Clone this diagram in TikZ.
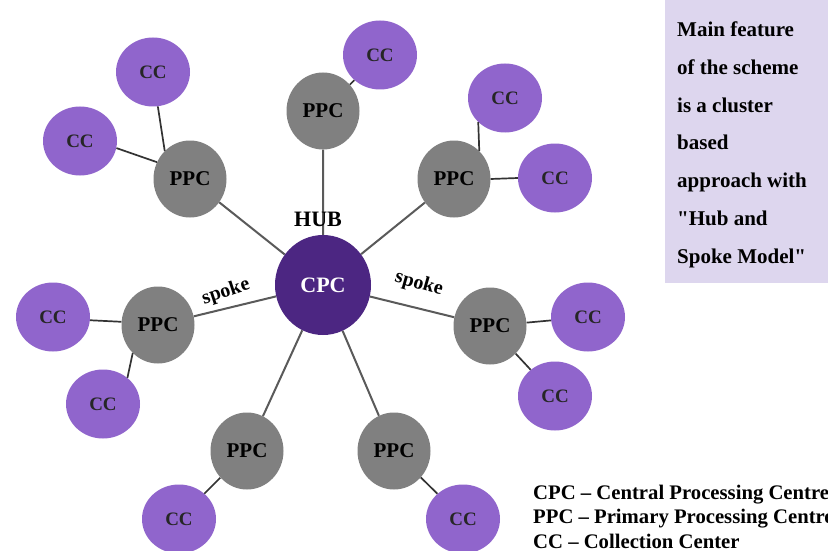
\documentclass[tikz,border=0pt]{standalone}
\usepackage{fontspec}
\setmainfont{Liberation Serif}
\usepackage{xcolor}
\usetikzlibrary{shapes}

\definecolor{cpcpurple}{RGB}{76,38,130}
\definecolor{ccpurple}{RGB}{144,101,204}
\definecolor{ppcgray}{RGB}{128,128,128}
\definecolor{notefill}{RGB}{221,214,238}
\definecolor{spokegray}{RGB}{90,90,90}

\begin{document}
\begin{tikzpicture}[
	%Environment config
	x=1pt,
	y=-1pt,
	font=\bfseries,
	%Environment styles
	CpcCfg/.style={
		ellipse,
		fill=cpcpurple,
		text=white,
		inner sep=0pt,
		minimum width=96pt,
		minimum height=100pt,
		font=\bfseries\fontsize{22}{22}\selectfont
	},
	PpcCfg/.style={
		ellipse,
		fill=ppcgray,
		inner sep=0pt,
		minimum width=73pt,
		minimum height=77pt,
		font=\bfseries\fontsize{21}{21}\selectfont
	},
	CcCfg/.style={
		ellipse,
		fill=ccpurple,
		text=black!85,
		inner sep=0pt,
		minimum width=74pt,
		minimum height=69pt,
		font=\bfseries\fontsize{19}{19}\selectfont
	},
	SpokeCfg/.style={draw=spokegray, line width=2pt},
	LinkCfg/.style={draw=black!80, line width=1.7pt},
	LabelCfg/.style={inner sep=0pt, font=\bfseries\fontsize{20}{20}\selectfont}
	]
	\clip (0,0) rectangle (828,551);
	\fill[white] (0,0) rectangle (828,551);

	% note box
	\fill[notefill] (665,0) rectangle (828,283);
	\node[anchor=base west, align=left, inner sep=0pt,
		font=\bfseries\fontsize{21}{37.7}\selectfont] (note) at (677,263)
		{Main feature\\of the scheme\\is a cluster\\based\\approach with\\\textquotedbl Hub and\\Spoke Model\textquotedbl};

	% centres
	\path
	(323,285) node[CpcCfg](CPC){CPC}
	(190,179) node[PpcCfg](PPC1){PPC}
	(323,111) node[PpcCfg](PPC2){PPC}
	(454,179) node[PpcCfg](PPC3){PPC}
	(158,325) node[PpcCfg](PPC4){PPC}
	(490,326) node[PpcCfg](PPC5){PPC}
	(247,451) node[PpcCfg](PPC6){PPC}
	(394,451) node[PpcCfg](PPC7){PPC}
	(153,72) node[CcCfg](CC1){CC}
	(80,141) node[CcCfg](CC2){CC}
	(380,55) node[CcCfg](CC3){CC}
	(505,98) node[CcCfg](CC4){CC}
	(555,178) node[CcCfg](CC5){CC}
	(53,317) node[CcCfg](CC6){CC}
	(103,404) node[CcCfg](CC7){CC}
	(588,317) node[CcCfg](CC8){CC}
	(555,396) node[CcCfg](CC9){CC}
	(179,519) node[CcCfg](CC10){CC}
	(463,519) node[CcCfg](CC11){CC};

	\draw[SpokeCfg]
	(CPC)--(PPC1)
	(CPC)--(PPC2)
	(CPC)--(PPC3)
	(CPC)--(PPC4)
	(CPC)--(PPC5)
	(CPC)--(PPC6)
	(CPC)--(PPC7);

	\draw[LinkCfg]
	(PPC1.132)--(CC1.-82)
	(PPC1.153)--(CC2.-11)
	(PPC2)--(CC3)
	(PPC3.48)--(CC4.-138)
	(PPC3.0)--(CC5.180)
	(PPC4.175)--(CC6.-5)
	(PPC4.-132)--(CC7.47)
	(PPC5)--(CC8)
	(PPC5)--(CC9)
	(PPC6)--(CC10)
	(PPC7)--(CC11);

	\node[LabelCfg, font=\bfseries\fontsize{22}{22}\selectfont] (hub) at (318,219) {HUB};
	\node[LabelCfg, rotate=18] (spokeL) at (226,292) {spoke};
	\node[LabelCfg, rotate=-16] (spokeR) at (419,284) {spoke};

	% legend
	\node[anchor=base west, align=left, inner sep=0pt,
		font=\bfseries\fontsize{20.7}{24.5}\selectfont] (legend) at (533,548)
		{CPC -- Central Processing Centre\\PPC -- Primary Processing Centre\\CC -- Collection Center};
\end{tikzpicture}
\end{document}
